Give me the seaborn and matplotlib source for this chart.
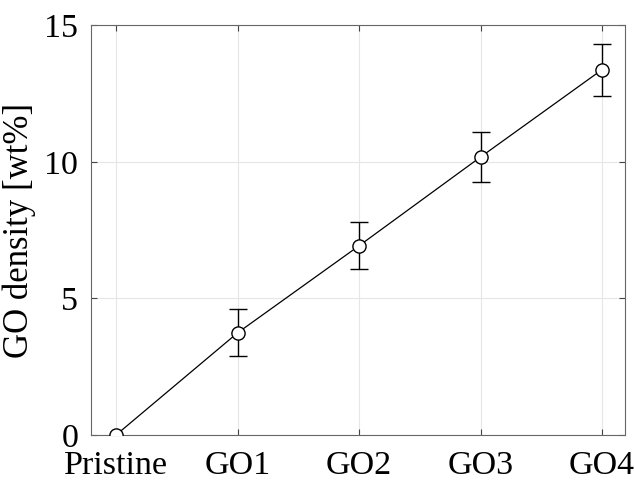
import matplotlib
matplotlib.use("Agg")
import matplotlib.pyplot as plt
import numpy as np
import seaborn as sns

samples = ["Pristine", "GO1", "GO2", "GO3", "GO4"]
density = [0.0, 3.74, 6.93, 10.18, 13.38]
density_err = [0.0, 0.86, 0.87, 0.90, 0.95]

sns.set_theme(style="whitegrid")
plt.rcParams["font.family"] = ["Liberation Serif", "DejaVu Serif"]

xpos = np.arange(len(samples))

fig = plt.figure(figsize=(6.34, 4.8), dpi=100)
ax = fig.add_axes([0.143, 0.094, 0.843, 0.853])

ax.errorbar(xpos[1:], density[1:], yerr=density_err[1:], fmt="none",
            ecolor="black", elinewidth=1.0, capsize=6.4, capthick=1.0, zorder=2)
sns.lineplot(x=xpos, y=density, ax=ax, color="black", linewidth=0.9,
             marker="o", markersize=9.5, markerfacecolor="white",
             markeredgecolor="black", markeredgewidth=1.0, zorder=3)

ax.set_xlim(-0.21, 4.19)
ax.set_ylim(0, 15)
ax.set_xticks(xpos)
ax.set_xticklabels(samples)
ax.set_yticks([0, 5, 10, 15])
ax.set_ylabel("GO density [wt%]", fontsize=25, color="black", labelpad=6)

ax.grid(True, color="#e6e6e6", linewidth=0.8)
ax.set_facecolor("white")
for s in ax.spines.values():
    s.set_color("#666666")
    s.set_linewidth(0.8)
    s.set_visible(True)
ax.tick_params(axis="both", direction="in", length=4, width=0.8,
               color="#444444", labelsize=24.5, labelcolor="black",
               top=True, right=True, bottom=True, left=True)
ax.tick_params(axis="x", pad=11)
ax.tick_params(axis="y", pad=9)

fig.savefig("out.png", dpi=100)
